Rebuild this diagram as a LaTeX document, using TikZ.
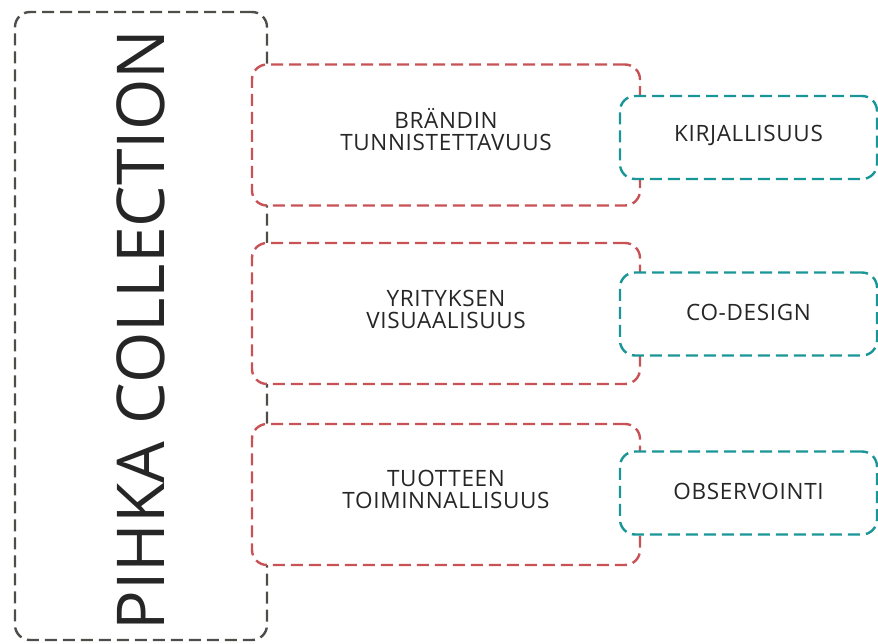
\documentclass[tikz,border=0pt]{standalone}
\usepackage{fontspec}
\setmainfont{Open Sans}
\definecolor{greyline}{RGB}{77,77,74}
\definecolor{redline}{RGB}{200,82,86}
\definecolor{tealline}{RGB}{26,150,152}
\definecolor{txt}{RGB}{38,38,38}
\tikzset{
  dashline/.style={line width=2.4pt, dash pattern=on 12pt off 6pt, rounded corners=15pt},
  bigbox/.style={dashline, draw=greyline, rectangle, minimum width=252pt, minimum height=628pt, inner sep=0pt},
  redbox/.style={dashline, draw=redline, fill=white, rectangle, minimum width=388pt, minimum height=141pt, inner sep=0pt},
  tealbox/.style={dashline, draw=tealline, fill=white, rectangle, minimum width=257pt, minimum height=83pt, inner sep=0pt},
  boxtext/.style={align=center, inner sep=0pt, text=txt, font=\fontsize{22.5}{22}\selectfont\addfontfeature{LetterSpace=3}},
}
\begin{document}
\begin{tikzpicture}[x=1pt,y=1pt]
\useasboundingbox (0,0) rectangle (878,643);
\node[bigbox] (main) at (141,317) {};
\node[rotate=90, text=txt, font=\fontsize{66}{70}\selectfont] (title) at (141,313) {PIHKA COLLECTION};
\node[redbox] (r1) at (446,508) {};
\node[redbox] (r2) at (446,329.5) {};
\node[redbox] (r3) at (446,148.5) {};
\node[boxtext] (r1t) at ([yshift=5pt]r1.center) {BRÄNDIN\\TUNNISTETTAVUUS};
\node[boxtext] (r2t) at ([yshift=4pt]r2.center) {YRITYKSEN\\VISUAALISUUS};
\node[boxtext] (r3t) at ([yshift=5pt]r3.center) {TUOTTEEN\\TOIMINNALLISUUS};
\node[tealbox] (t1) at (748.5,505.5) {};
\node[tealbox] (t2) at (748.5,329) {};
\node[tealbox] (t3) at (748.5,150) {};
\node[boxtext] (t1t) at ([yshift=2pt]t1.center) {KIRJALLISUUS};
\node[boxtext] (t2t) at ([yshift=2pt]t2.center) {CO-DESIGN};
\node[boxtext] (t3t) at ([yshift=2pt]t3.center) {OBSERVOINTI};
\end{tikzpicture}
\end{document}
